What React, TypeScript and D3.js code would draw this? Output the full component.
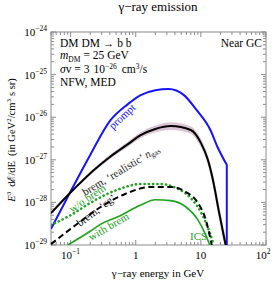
import * as d3 from 'd3'

// energies in GeV, fluxes in E^3 dℰ/dE (GeV^2/cm^3 s sr)
const promptE = [0.05, 0.107, 0.2, 0.41, 0.75, 1.19, 2.0, 3.2, 5.5, 8.5, 14, 18, 25]
const promptV = [2.4e-29, 2.2e-28, 1.3e-27, 8.5e-27, 2.0e-26, 3.3e-26, 4.3e-26, 4.6e-26, 3.3e-26, 1.5e-26, 5e-27, 2e-27, 7.6e-28]

const realE = [0.05, 0.107, 0.226, 0.41, 0.75, 1.19, 2.0, 3.45, 7, 10, 12.8, 15.3, 19, 24]
const realV = [5.6e-29, 1.9e-28, 5.7e-28, 1.2e-27, 2.3e-27, 3.8e-27, 5.3e-27, 6.2e-27, 5e-27, 2.5e-27, 1e-27, 3.4e-28, 5.9e-29, 1e-29]
const realBand = [1.04, 1.05, 1.07, 1.1, 1.12, 1.15, 1.18, 1.2, 1.2, 1.2, 1.22, 1.25, 1.3, 1.3]

const woE = [0.05, 0.1, 0.2, 0.53, 1.2, 2.4, 4.1, 7, 10, 13.3, 15.8]
const woV = [2.95e-29, 5e-29, 9.7e-29, 2e-28, 2.7e-28, 2.7e-28, 2.2e-28, 1.26e-28, 5.9e-29, 2.2e-29, 1e-29]

const cgE = [0.05, 0.12, 0.29, 0.7, 1.7, 3.45, 5.9, 9, 11.9, 14.7]
const cgV = [1.05e-29, 2.95e-29, 7.8e-29, 1.6e-28, 2.3e-28, 2.3e-28, 1.75e-28, 9.7e-29, 3.9e-29, 1e-29]

const withE = [0.09, 0.2, 0.29, 0.53, 1.2, 2.0, 3.45, 5.9, 9, 11.9, 13.7]
const withV = [1e-29, 2.1e-29, 3.1e-29, 4.6e-29, 8.7e-29, 1.15e-28, 1.1e-28, 7.8e-29, 3.9e-29, 1.7e-29, 1e-29]

const xMajor = [0.1, 1, 10, 100]
const xLabels = ['−1', '1', '10', '2']
const yMajor = [1e-29, 1e-28, 1e-27, 1e-26, 1e-25, 1e-24]
const yLabels = ['−29', '−28', '−27', '−26', '−25', '−24']

const width = 274
const height = 282
const left = 51
const right = 266
const top = 32
const bottom = 245

const x = d3.scaleLog().domain([0.05, 100]).range([left, right])
const y = d3.scaleLog().domain([1e-29, 1e-24]).range([bottom, top])

const blue = '#1414ff'
const green = '#1ea31e'
const frame = '#8c8c8c'
const font = 'Liberation Serif, Times New Roman, serif'

function path(es: number[], vs: number[]) {
  return d3
    .line<number>()
    .x((i) => x(es[i]))
    .y((i) => y(vs[i]))
    .curve(d3.curveMonotoneX)(es.map((_, i) => i)) as string
}

const band = d3
  .area<number>()
  .x((i) => x(realE[i]))
  .y0((i) => y(realV[i] / realBand[i]))
  .y1((i) => y(realV[i] * realBand[i]))
  .curve(d3.curveMonotoneX)(realE.map((_, i) => i)) as string

function minorTicks(lo: number, hi: number) {
  const out: number[] = []
  for (let p = lo; p < hi; p++) {
    for (let k = 2; k <= 9; k++) out.push(k * Math.pow(10, p))
  }
  return out
}

const xMinor = minorTicks(-2, 2).filter((v) => v >= 0.05 && v <= 100)
const yMinor = minorTicks(-29, -24)

export default function App() {
  const promptPath = path(promptE, promptV) + `L${x(25)},${bottom + 5}`
  return (
    <svg
      width={width}
      height={height}
      style={{ position: 'absolute', left: 0, top: 0, background: '#fff' }}
      fontFamily={font}
    >
      <defs>
        <clipPath id="plot">
          <rect x={left} y={top} width={right - left} height={bottom - top} />
        </clipPath>
      </defs>

      <text x={158} y={11} fontSize={13} textAnchor="middle">
        γ−ray emission
      </text>

      {/* frame and ticks */}
      <rect x={left} y={top} width={right - left} height={bottom - top} fill="none" stroke={frame} strokeWidth={1} />
      {xMajor.map((v) => (
        <g key={'xM' + v} stroke={frame}>
          <line x1={x(v)} x2={x(v)} y1={bottom} y2={bottom - 5} />
          <line x1={x(v)} x2={x(v)} y1={top} y2={top + 5} />
        </g>
      ))}
      {xMinor.map((v) => (
        <g key={'xm' + v} stroke={frame}>
          <line x1={x(v)} x2={x(v)} y1={bottom} y2={bottom - 3} />
          <line x1={x(v)} x2={x(v)} y1={top} y2={top + 3} />
        </g>
      ))}
      {yMajor.map((v) => (
        <g key={'yM' + v} stroke={frame}>
          <line x1={left} x2={left + 5} y1={y(v)} y2={y(v)} />
          <line x1={right} x2={right - 5} y1={y(v)} y2={y(v)} />
        </g>
      ))}
      {yMinor.map((v) => (
        <g key={'ym' + v} stroke={frame}>
          <line x1={left} x2={left + 3} y1={y(v)} y2={y(v)} />
          <line x1={right} x2={right - 3} y1={y(v)} y2={y(v)} />
        </g>
      ))}

      {/* tick labels */}
      {yMajor.map((v, i) => (
        <text key={'yl' + v} x={left - 4} y={y(v) + 4} fontSize={11} textAnchor="end">
          10
          <tspan dy={-5} fontSize={7.5}>
            {yLabels[i]}
          </tspan>
        </text>
      ))}
      {xMajor.map((v, i) =>
        xLabels[i] === '1' || xLabels[i] === '10' ? (
          <text key={'xl' + v} x={x(v)} y={259} fontSize={11} textAnchor="middle">
            {xLabels[i]}
          </text>
        ) : (
          <text key={'xl' + v} x={v > 10 ? x(v) - 3 : x(v)} y={259} fontSize={11} textAnchor="middle">
            10
            <tspan dy={-5} fontSize={7.5}>
              {xLabels[i]}
            </tspan>
          </text>
        )
      )}

      <text x={158} y={277} fontSize={11} textAnchor="middle">
        γ−ray energy in GeV
      </text>

      <text transform="translate(15,140) rotate(-90)" fontSize={10.5} textAnchor="middle">
        <tspan fontStyle="italic">E</tspan>
        <tspan dy={-4} fontSize={7}>3</tspan>
        <tspan dy={4} dx={5}>dℰ/dE</tspan>
        <tspan dx={5}>(in GeV</tspan>
        <tspan dy={-4} fontSize={7}>2</tspan>
        <tspan dy={4}>/cm</tspan>
        <tspan dy={-4} fontSize={7}>3</tspan>
        <tspan dy={4} dx={3}>s sr)</tspan>
      </text>

      {/* curves */}
      <g clipPath="url(#plot)" fill="none">
        <path d={band} fill="#dcc6d6" stroke="#c9adc2" strokeWidth={0.5} />
        <path d={promptPath} stroke={blue} strokeWidth={2} />
        <path d={path(realE, realV)} stroke="#000" strokeWidth={2} />
        <path d={path(woE, woV)} stroke={green} strokeWidth={2.6} strokeDasharray="0.1 4.2" strokeLinecap="round" />
        <path d={path(cgE, cgV)} stroke="#000" strokeWidth={2} strokeDasharray="6 3.5" />
        <path d={path(withE, withV)} stroke={green} strokeWidth={1.6} />
      </g>

      {/* annotations */}
      <g fontSize={11.5}>
        <text x={60} y={46.5}>
          DM DM → b b
        </text>
        <text x={60} y={59}>
          <tspan fontStyle="italic">m</tspan>
          <tspan dy={2.5} fontSize={7.5}>DM</tspan>
          <tspan dy={-2.5} dx={3}>= 25 GeV</tspan>
        </text>
        <text x={60} y={72.5}>
          <tspan fontStyle="italic">σ</tspan>
          <tspan>v = 3</tspan>
          <tspan dx={4}>10</tspan>
          <tspan dy={-4} fontSize={7.5}>−26</tspan>
          <tspan dy={4} dx={5}>cm</tspan>
          <tspan dy={-4} fontSize={7.5}>3</tspan>
          <tspan dy={4}>/s</tspan>
        </text>
        <text x={60} y={85.5}>
          NFW, MED
        </text>
        <text x={262} y={46.5} textAnchor="end">
          Near GC
        </text>
      </g>

      <g fontSize={11}>
        <text transform="translate(113,130) rotate(-43)" fill={blue}>
          prompt
        </text>
        <text transform="translate(85,196) rotate(-31)" fill="#222">
          brem, ‘realistic’ <tspan fontStyle="italic">n</tspan>
          <tspan dy={2} fontSize={7.5}>gas</tspan>
        </text>
        <text transform="translate(72,213) rotate(-34)" fill={green}>
          w/o brem
        </text>
        <text transform="translate(80,227) rotate(-37)" fill="#111">
          brem, ‘cg’
        </text>
        <text transform="translate(91,241) rotate(-30)" fill={green}>
          with brem
        </text>
        <text x={190} y={240} fill={green}>
          ICS
        </text>
      </g>
    </svg>
  )
}
